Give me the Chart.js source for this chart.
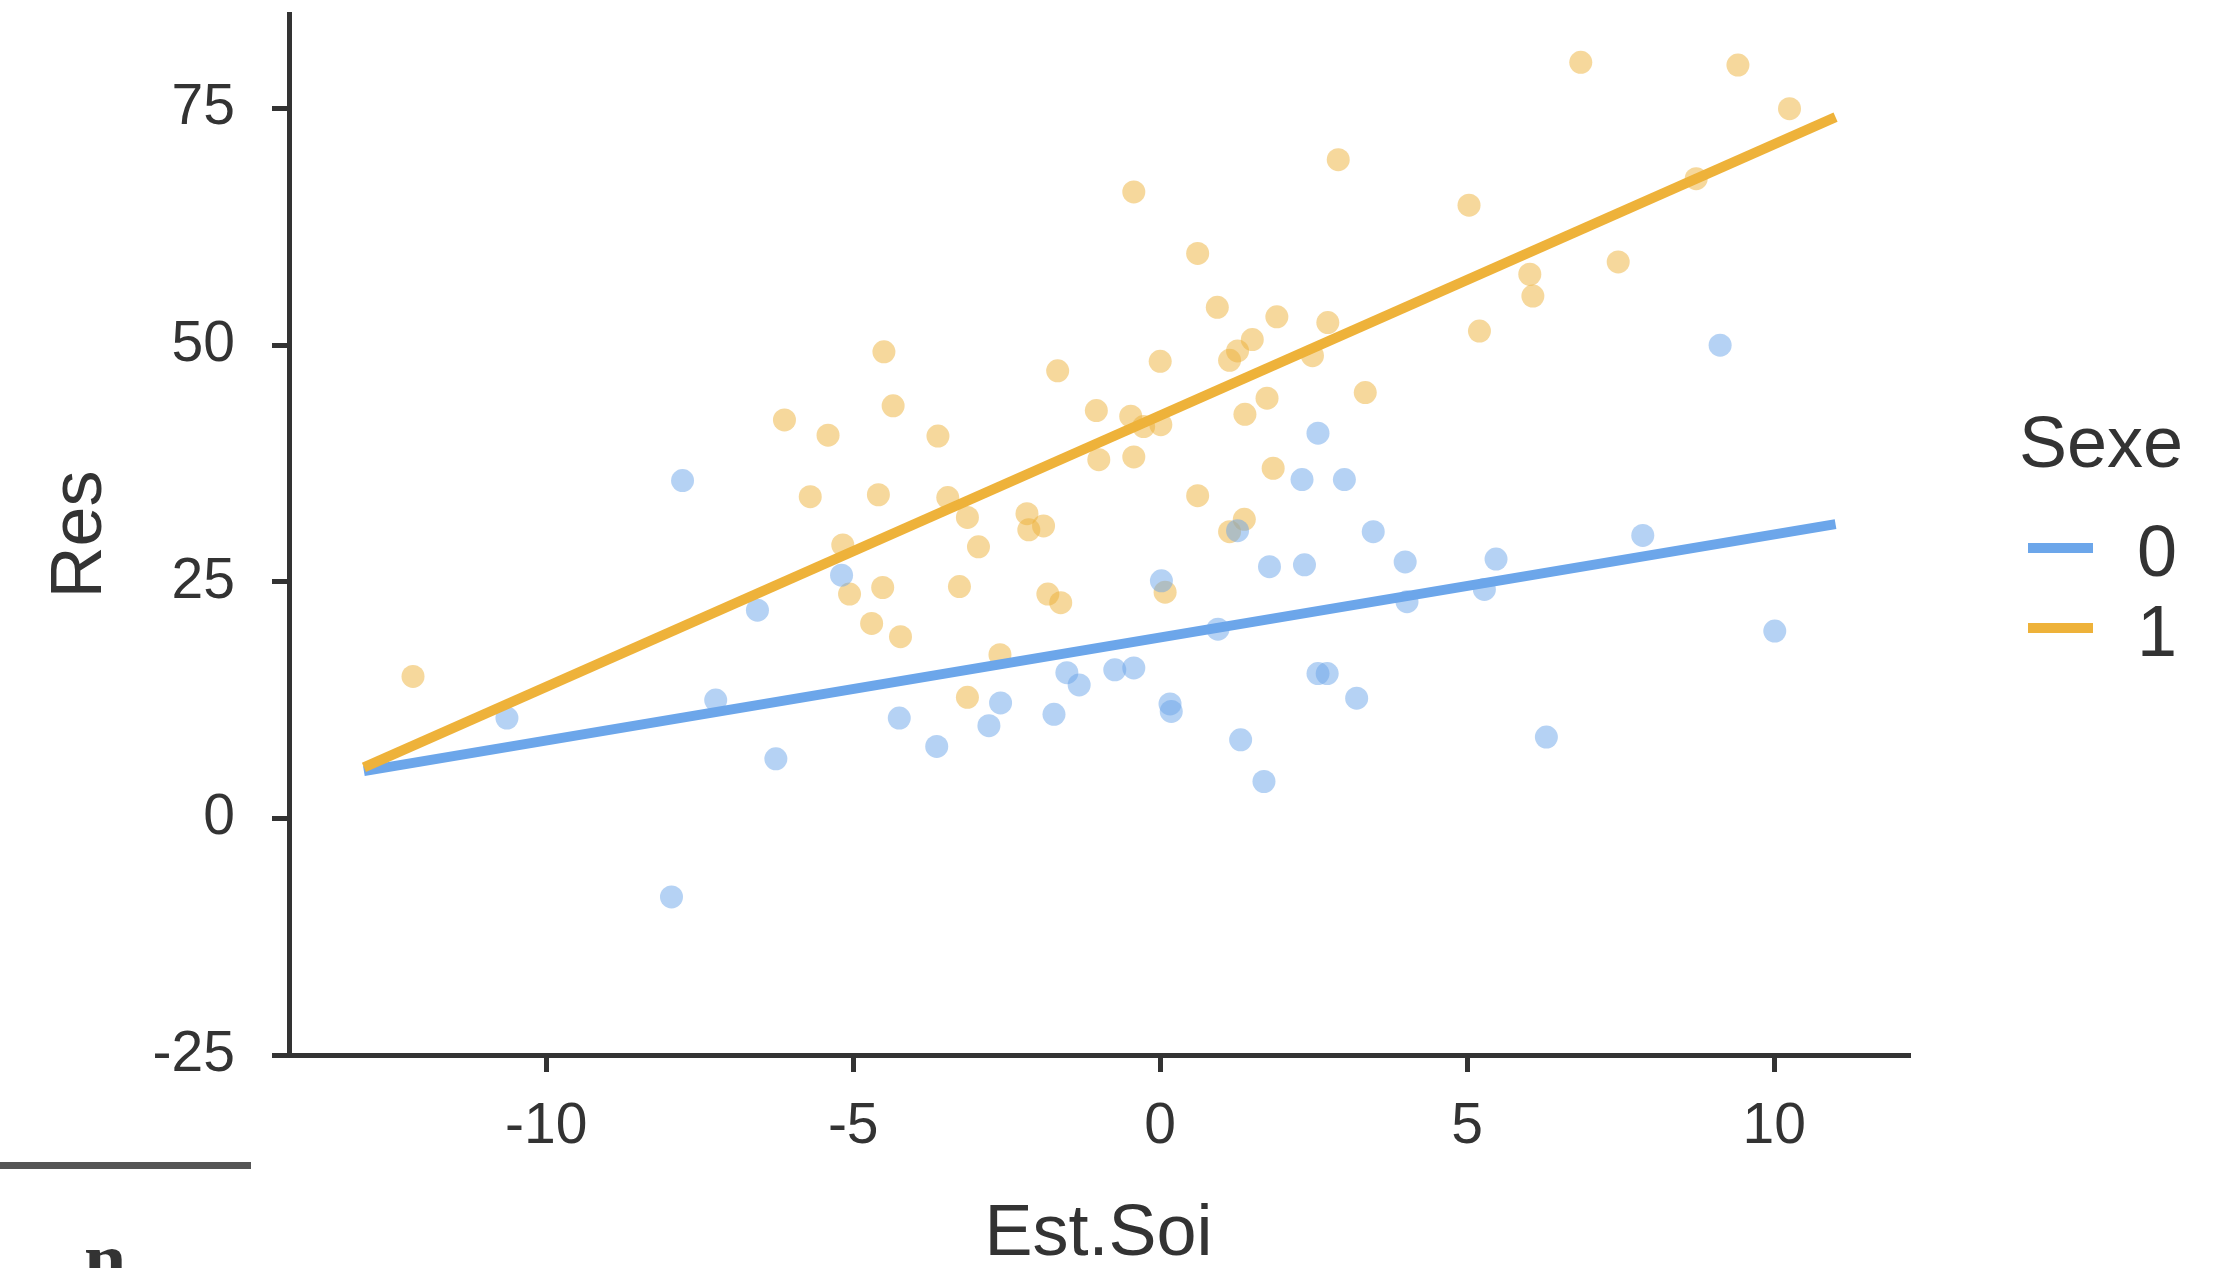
<!DOCTYPE html>
<html>
<head>
<meta charset="utf-8">
<script src="https://cdn.jsdelivr.net/npm/chart.js@4.4.1/dist/chart.umd.min.js"></script>
<style>
  html, body { margin: 0; padding: 0; background: #fff; overflow: hidden; }
  #wrap { position: relative; width: 2213px; height: 1268px; overflow: hidden; }
  #plot { position: absolute; left: 0; top: 0; }
  .rule { position: absolute; left: 0; top: 1162px; width: 251px; height: 7px; background: #555; }
  .cut { position: absolute; left: 84px; top: 1221px; font: bold 76px "Liberation Serif", serif; line-height: 1; color: #333; }
</style>
</head>
<body>
<div id="wrap">
  <canvas id="plot" width="2213" height="1300"></canvas>
  <div class="rule"></div>
  <div class="cut">n</div>
</div>
<script>
// Sexe groups
const groups = ['0', '1'];

// Sexe = 0
const estSoi0 = [-10.64, -7.96, -7.78, -7.24, -6.56, -6.26, -5.19, -4.25, -3.64, -2.79,
  -2.60, -1.73, -1.52, -1.32, -0.74, -0.43, 0.02, 0.16, 0.18, 0.94,
  1.26, 1.31, 1.69, 1.78, 2.31, 2.35, 2.57, 2.57, 2.72, 3.00,
  3.20, 3.47, 3.99, 4.02, 5.28, 5.47, 6.29, 7.86, 9.12, 10.01];
const res0 = [10.6, -8.3, 35.7, 12.5, 22.0, 6.3, 25.7, 10.6, 7.6, 9.8,
  12.2, 11.0, 15.4, 14.1, 15.7, 15.9, 25.1, 12.1, 11.3, 20.0,
  30.4, 8.3, 3.9, 26.6, 35.8, 26.8, 40.7, 15.3, 15.3, 35.8,
  12.7, 30.3, 27.1, 22.9, 24.2, 27.4, 8.6, 29.9, 50.0, 19.8];

// Sexe = 1
const estSoi1 = [-12.17, -6.12, -5.70, -5.41, -5.17, -5.06, -4.70, -4.59, -4.52, -4.50,
  -4.35, -4.23, -3.62, -3.46, -3.27, -3.14, -3.14, -2.96, -2.61, -2.17,
  -2.14, -1.90, -1.83, -1.67, -1.62, -1.04, -1.00, -0.48, -0.43, -0.43,
  -0.27, 0.01, 0.00, 0.08, 0.61, 0.61, 0.93, 1.13, 1.26, 1.13,
  1.37, 1.38, 1.50, 1.74, 1.84, 1.90, 2.48, 2.73, 2.90, 3.34,
  5.03, 5.20, 6.02, 6.07, 6.85, 7.46, 8.73, 9.41, 10.25];
const res1 = [15.0, 42.1, 34.0, 40.5, 28.9, 23.7, 20.6, 34.2, 24.4, 49.3,
  43.6, 19.2, 40.4, 33.9, 24.5, 31.8, 12.8, 28.7, 17.3, 32.2,
  30.5, 30.9, 23.7, 47.3, 22.8, 43.1, 37.9, 42.5, 66.2, 38.2,
  41.4, 41.6, 48.3, 23.9, 59.7, 34.1, 54.0, 48.4, 49.4, 30.3,
  31.6, 42.7, 50.6, 44.4, 37.0, 53.0, 48.9, 52.4, 69.6, 45.0,
  64.8, 51.5, 57.5, 55.2, 79.9, 58.8, 67.6, 79.6, 75.0];

// fitted lines
const fitX = [-12.97, 11.0];
const fit0 = [5.0, 31.1];
const fit1 = [5.4, 74.1];

const xTicks = [-10, -5, 0, 5, 10];
const yTicks = [-25, 0, 25, 50, 75];

const lineColors = ['#6CA6EA', '#EEB23A'];
const pointColors = ['rgba(108,166,234,0.5)', 'rgba(238,178,58,0.5)'];

function pts(xs, ys) {
    return xs.map((x, i) => ({ x: x, y: ys[i] }));
}

Chart.defaults.font.family = '"Liberation Sans", Arial, sans-serif';

const sideLegend = {
    id: 'sideLegend',
    afterDraw(chart) {
        const ctx = chart.ctx;
        ctx.save();
        ctx.fillStyle = '#333';
        ctx.font = '72px "Liberation Sans", Arial, sans-serif';
        ctx.textAlign = 'left';
        ctx.textBaseline = 'alphabetic';
        ctx.fillText('Sexe', 2019, 467);
        groups.forEach((g, i) => {
            const y = 548 + i * 80;
            ctx.strokeStyle = lineColors[i];
            ctx.lineWidth = 10;
            ctx.beginPath();
            ctx.moveTo(2028, y);
            ctx.lineTo(2093, y);
            ctx.stroke();
            ctx.fillText(g, 2137, y + 28);
        });
        ctx.restore();
    }
};

const axisStyle = {
    border: { color: '#333', width: 5 },
    grid: { drawOnChartArea: false, color: '#333', lineWidth: 5, tickLength: 17 },
};

new Chart(document.getElementById('plot'), {
    type: 'scatter',
    data: {
        datasets: [
            { label: groups[0], data: pts(estSoi0, res0), backgroundColor: pointColors[0], pointRadius: 11.5, pointBorderWidth: 0, order: 2 },
            { label: groups[1], data: pts(estSoi1, res1), backgroundColor: pointColors[1], pointRadius: 11.5, pointBorderWidth: 0, order: 2 },
            { label: 'fit ' + groups[0], data: pts(fitX, fit0), showLine: true, borderColor: lineColors[0], borderWidth: 10, pointRadius: 0, order: 1 },
            { label: 'fit ' + groups[1], data: pts(fitX, fit1), showLine: true, borderColor: lineColors[1], borderWidth: 10, pointRadius: 0, order: 0 },
        ]
    },
    options: {
        responsive: false,
        animation: false,
        layout: { padding: { left: 0, top: 14, right: 305, bottom: 0 } },
        plugins: {
            legend: { display: false },
            tooltip: { enabled: false },
        },
        scales: {
            x: {
                type: 'linear',
                min: -14.19,
                max: 12.18,
                ...axisStyle,
                afterBuildTicks: (s) => { s.ticks = xTicks.map(v => ({ value: v })); },
                afterFit: (s) => { s.height = 245; s.paddingLeft = 0; s.paddingRight = 0; },
                ticks: { font: { size: 57 }, color: '#333', padding: 21, maxRotation: 0, callback: (v) => String(v) },
                title: { display: true, text: 'Est.Soi', font: { size: 72 }, color: '#333', padding: { top: 0, bottom: 22 } },
            },
            y: {
                type: 'linear',
                min: -25,
                max: 85,
                ...axisStyle,
                afterBuildTicks: (s) => { s.ticks = yTicks.map(v => ({ value: v })); },
                afterFit: (s) => { s.width = 289; s.paddingTop = 0; s.paddingBottom = 0; },
                ticks: { font: { size: 57 }, color: '#333', padding: 37, callback: (v) => String(v) },
                title: { display: true, text: 'Res', font: { size: 72 }, color: '#333', padding: { top: 38, bottom: 0 } },
            }
        }
    },
    plugins: [sideLegend]
});
</script>
</body>
</html>
